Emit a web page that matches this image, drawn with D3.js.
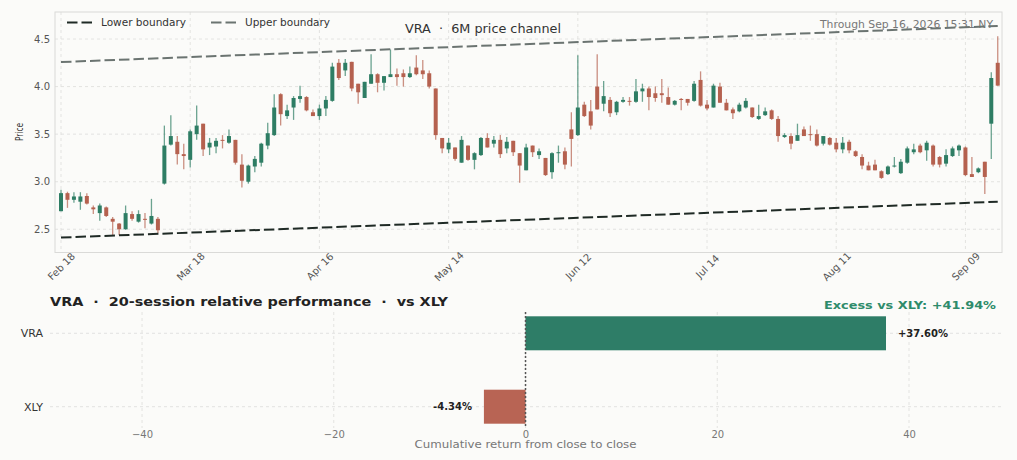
<!DOCTYPE html>
<html>
<head>
<meta charset="utf-8">
<script src="https://cdn.jsdelivr.net/npm/d3@7"></script>
<style>
  body { margin: 0; background: #fbfbf9; }
  svg text { font-family: "DejaVu Sans", sans-serif; white-space: pre; }
</style>
</head>
<body>
<svg id="chart" width="1017" height="460"></svg>
<script>
// ========== Data ==========
// Daily OHLC, one entry per session (Feb 18 .. Sep 16).
var opens = [
  2.69, 2.88, 2.81, 2.79, 2.85, 2.73, 2.67, 2.73, 2.61, 2.56,
  2.50, 2.66, 2.58, 2.61, 2.56, 2.61, 2.98, 3.39, 3.42, 3.29,
  3.23, 3.50, 3.61, 3.36, 3.37, 3.44, 3.41, 3.44, 3.18, 3.00,
  3.16, 3.20, 3.38, 3.49, 3.92, 3.69, 3.78, 3.87, 3.89, 3.73,
  3.69, 3.77, 3.85, 4.25, 4.17, 4.26, 4.03, 3.88, 4.03, 4.13,
  4.04, 4.10, 4.13, 4.14, 4.10, 4.20, 4.17, 4.14, 3.98, 3.46,
  3.34, 3.36, 3.20, 3.38, 3.23, 3.28, 3.46, 3.40, 3.44, 3.35,
  3.43, 3.30, 3.12, 3.38, 3.28, 3.25, 3.10, 3.30, 3.32, 3.55,
  3.49, 3.81, 3.74, 4.00, 3.82, 3.86, 3.73, 3.84, 3.85, 3.84,
  3.95, 3.98, 3.93, 3.93, 3.89, 3.81, 3.87, 3.87, 3.85, 4.07,
  3.81, 3.78, 4.00, 3.83, 3.76, 3.74, 3.78, 3.78, 3.66, 3.70,
  3.75, 3.66, 3.47, 3.48, 3.43, 3.55, 3.50, 3.50, 3.40, 3.46,
  3.41, 3.34, 3.42, 3.32, 3.26, 3.17, 3.18, 3.11, 3.08, 3.16,
  3.09, 3.20, 3.31, 3.38, 3.33, 3.38, 3.26, 3.19, 3.27, 3.33,
  3.36, 3.08, 3.10, 3.21, 3.61, 4.25
];
var highs = [
  2.915, 2.895, 2.89, 2.89, 2.88, 2.75, 2.77, 2.74, 2.63, 2.565,
  2.75, 2.69, 2.70, 2.67, 2.82, 2.63, 3.59, 3.70, 3.48, 3.40,
  3.55, 3.80, 3.61, 3.46, 3.46, 3.49, 3.55, 3.44, 3.29, 3.18,
  3.27, 3.41, 3.62, 3.92, 3.93, 3.81, 3.90, 4.01, 3.90, 3.76,
  3.81, 3.90, 4.25, 4.29, 4.29, 4.26, 4.03, 4.05, 4.34, 4.14,
  4.11, 4.39, 4.19, 4.18, 4.21, 4.33, 4.28, 4.17, 3.98, 3.46,
  3.46, 3.36, 3.48, 3.38, 3.31, 3.47, 3.51, 3.48, 3.49, 3.47,
  3.43, 3.30, 3.40, 3.38, 3.35, 3.25, 3.31, 3.38, 3.36, 3.73,
  4.33, 3.84, 3.86, 4.34, 4.06, 3.89, 3.85, 3.89, 3.89, 4.08,
  4.03, 4.00, 4.00, 4.08, 3.99, 3.86, 3.88, 3.87, 4.06, 4.16,
  3.86, 4.03, 4.04, 3.87, 3.78, 3.83, 3.88, 3.78, 3.81, 3.78,
  3.76, 3.69, 3.51, 3.51, 3.61, 3.58, 3.59, 3.55, 3.48, 3.47,
  3.46, 3.47, 3.44, 3.33, 3.29, 3.21, 3.23, 3.12, 3.17, 3.26,
  3.24, 3.37, 3.40, 3.40, 3.43, 3.39, 3.27, 3.34, 3.37, 3.39,
  3.37, 3.26, 3.15, 3.21, 4.15, 4.53
];
var lows = [
  2.69, 2.725, 2.78, 2.705, 2.76, 2.66, 2.59, 2.63, 2.44, 2.44,
  2.495, 2.59, 2.57, 2.51, 2.55, 2.46, 2.97, 3.38, 3.18, 3.13,
  3.15, 3.44, 3.27, 3.28, 3.30, 3.35, 3.40, 3.18, 2.94, 2.98,
  3.10, 3.16, 3.34, 3.48, 3.59, 3.66, 3.65, 3.83, 3.74, 3.69,
  3.65, 3.69, 3.84, 4.07, 4.11, 3.95, 3.82, 3.88, 4.03, 3.94,
  3.96, 4.10, 4.01, 4.00, 4.09, 4.12, 4.08, 3.98, 3.44, 3.30,
  3.30, 3.22, 3.20, 3.22, 3.13, 3.27, 3.36, 3.36, 3.25, 3.30,
  3.27, 2.99, 3.12, 3.26, 3.24, 3.06, 3.03, 3.20, 3.13, 3.16,
  3.48, 3.68, 3.55, 3.76, 3.74, 3.68, 3.70, 3.83, 3.80, 3.83,
  3.84, 3.75, 3.84, 3.83, 3.81, 3.80, 3.75, 3.80, 3.84, 3.79,
  3.75, 3.78, 3.83, 3.75, 3.66, 3.73, 3.77, 3.67, 3.65, 3.69,
  3.65, 3.42, 3.46, 3.34, 3.43, 3.48, 3.43, 3.37, 3.38, 3.38,
  3.31, 3.30, 3.30, 3.26, 3.13, 3.12, 3.12, 3.03, 3.07, 3.15,
  3.08, 3.19, 3.29, 3.30, 3.22, 3.16, 3.15, 3.16, 3.26, 3.27,
  3.06, 3.05, 3.09, 2.87, 3.24, 4.01
];
var closes = [
  2.88, 2.81, 2.845, 2.845, 2.77, 2.71, 2.75, 2.64, 2.58, 2.50,
  2.67, 2.61, 2.66, 2.60, 2.64, 2.49, 3.38, 3.48, 3.29, 3.27,
  3.53, 3.59, 3.34, 3.41, 3.43, 3.43, 3.48, 3.20, 3.01, 3.17,
  3.24, 3.40, 3.51, 3.78, 3.71, 3.75, 3.88, 3.90, 3.75, 3.69,
  3.77, 3.86, 4.21, 4.09, 4.25, 3.98, 3.94, 4.05, 4.13, 4.04,
  4.11, 4.13, 4.10, 4.10, 4.14, 4.13, 4.13, 4.00, 3.49, 3.35,
  3.41, 3.24, 3.44, 3.23, 3.30, 3.46, 3.36, 3.44, 3.29, 3.42,
  3.31, 3.17, 3.36, 3.31, 3.32, 3.07, 3.30, 3.31, 3.18, 3.45,
  3.78, 3.69, 3.59, 3.76, 3.90, 3.72, 3.84, 3.86, 3.84, 3.95,
  3.98, 3.89, 3.88, 3.91, 3.81, 3.85, 3.86, 3.83, 4.03, 3.80,
  3.77, 4.01, 3.83, 3.75, 3.72, 3.81, 3.85, 3.68, 3.69, 3.74,
  3.66, 3.48, 3.49, 3.40, 3.49, 3.48, 3.49, 3.38, 3.48, 3.39,
  3.34, 3.41, 3.33, 3.27, 3.17, 3.12, 3.12, 3.04, 3.16, 3.17,
  3.21, 3.35, 3.34, 3.31, 3.41, 3.18, 3.18, 3.28, 3.35, 3.38,
  3.07, 3.05, 3.14, 3.05, 4.09, 4.01
];
// x ticks every 20 sessions
var dateTickIndex = [0, 20, 40, 60, 80, 100, 120, 140];
var dateTickLabels = ["Feb 18", "Mar 18", "Apr 16", "May 14", "Jun 12", "Jul 14", "Aug 11", "Sep 09"];
var priceTicks = [2.5, 3.0, 3.5, 4.0, 4.5];
// channel lines: value at first and last session
var lowerBoundary = [2.413, 2.790];
var upperBoundary = [4.258, 4.637];

// relative performance panel
var perfNames = ["VRA", "XLY"];
var perfValues = [37.60, -4.34];
var perfTicks = [-40, -20, 0, 20, 40];
var excessValue = 41.94;
// =============================================

var GREEN = "#2e7d64";
var RED = "#b5614f";
var DASH = "10.5,4";

var svg = d3.select("#chart");

// ---------- price panel ----------
var pLeft = 55, pRight = 1002, pTop = 12, pBottom = 252.5;
var x = d3.scaleLinear().domain([-0.93, 145.66]).range([pLeft, pRight]);
var y = d3.scaleLinear().domain([2.256, 4.784]).range([pBottom, pTop]);

var grid = svg.append("g");
grid.selectAll(".hg").data(priceTicks).enter().append("line")
  .attr("x1", pLeft).attr("x2", pRight)
  .attr("y1", function(d) { return y(d); }).attr("y2", function(d) { return y(d); })
  .attr("stroke", "#e0e0de").attr("stroke-dasharray", "3,3").attr("stroke-width", 0.9);
grid.selectAll(".vg").data(dateTickIndex).enter().append("line")
  .attr("y1", pTop).attr("y2", pBottom)
  .attr("x1", function(d) { return x(d); }).attr("x2", function(d) { return x(d); })
  .attr("stroke", "#e0e0de").attr("stroke-dasharray", "3,3").attr("stroke-width", 0.9);

svg.append("rect")
  .attr("x", pLeft).attr("y", pTop)
  .attr("width", pRight - pLeft).attr("height", pBottom - pTop)
  .attr("fill", "none").attr("stroke", "#dadad8").attr("stroke-width", 1);

// y axis
var yAxis = svg.append("g")
  .attr("transform", "translate(" + pLeft + ",0)")
  .call(d3.axisLeft(y).tickValues(priceTicks).tickSize(0).tickPadding(5)
    .tickFormat(d3.format(".1f")));
yAxis.select(".domain").remove();
yAxis.selectAll("text")
  .attr("fill", "#555").style("font-size", "10px").style("font-family", "DejaVu Sans");

svg.append("text")
  .attr("transform", "translate(23,132) rotate(-90)")
  .attr("text-anchor", "middle")
  .attr("textLength", 18).attr("lengthAdjust", "spacingAndGlyphs")
  .attr("fill", "#333").style("font-size", "11px")
  .text("Price");

// x axis (session index, labelled with dates)
var xAxis = svg.append("g")
  .attr("transform", "translate(0," + pBottom + ")")
  .call(d3.axisBottom(x).tickValues(dateTickIndex).tickSize(0)
    .tickFormat(function(d, i) { return dateTickLabels[i]; }));
xAxis.select(".domain").remove();
xAxis.selectAll("text")
  .attr("y", 0).attr("dy", "0.35em")
  .attr("text-anchor", "middle")
  .attr("transform", "translate(0,14) rotate(-45)")
  .attr("fill", "#555").style("font-size", "10px").style("font-family", "DejaVu Sans");

// channel lines
var lastIdx = closes.length - 1;
function channel(vals, color) {
  svg.append("line")
    .attr("x1", x(0)).attr("y1", y(vals[0]))
    .attr("x2", x(lastIdx)).attr("y2", y(vals[1]))
    .attr("stroke", color).attr("stroke-width", 2)
    .attr("stroke-dasharray", DASH);
}

// candles
var idx = d3.range(closes.length);
var candles = svg.append("g");
candles.selectAll(".wick").data(idx).enter().append("line")
  .attr("x1", function(i) { return x(i); }).attr("x2", function(i) { return x(i); })
  .attr("y1", function(i) { return y(highs[i]); }).attr("y2", function(i) { return y(lows[i]); })
  .attr("stroke", function(i) { return closes[i] >= opens[i] ? GREEN : RED; })
  .attr("stroke-opacity", 0.7).attr("stroke-width", 1.3);
candles.selectAll(".body").data(idx).enter().append("rect")
  .attr("x", function(i) { return x(i) - 2; })
  .attr("width", 4)
  .attr("y", function(i) { return y(Math.max(opens[i], closes[i])); })
  .attr("height", function(i) {
    return Math.max(1, Math.abs(y(opens[i]) - y(closes[i])));
  })
  .attr("fill", function(i) { return closes[i] >= opens[i] ? GREEN : RED; });

// titles inside price panel
svg.append("text")
  .attr("x", 993).attr("y", 27.5).attr("text-anchor", "end")
  .attr("textLength", 173).attr("lengthAdjust", "spacingAndGlyphs")
  .attr("fill", "#777").style("font-size", "10px")
  .text("Through Sep 16, 2026 15:31 NY");

channel(lowerBoundary, "#1f2a25");
channel(upperBoundary, "#6b7471");

svg.append("text")
  .attr("x", 405).attr("y", 33)
  .attr("textLength", 156).attr("lengthAdjust", "spacingAndGlyphs")
  .attr("fill", "#333").style("font-size", "12px")
  .text("VRA  \u00b7  6M price channel");

// legend
var legendItems = [
  { label: "Lower boundary", color: "#1f2a25", x: 67 },
  { label: "Upper boundary", color: "#6b7471", x: 211 }
];
var legend = svg.append("g");
legendItems.forEach(function(d) {
  legend.append("line")
    .attr("x1", d.x).attr("x2", d.x + 25)
    .attr("y1", 22.5).attr("y2", 22.5)
    .attr("stroke", d.color).attr("stroke-width", 2)
    .attr("stroke-dasharray", DASH);
  legend.append("text")
    .attr("x", d.x + 34).attr("y", 26)
    .attr("textLength", 85).attr("lengthAdjust", "spacingAndGlyphs")
    .attr("fill", "#333").style("font-size", "10px")
    .text(d.label);
});

// ---------- relative performance panel ----------
var bLeft = 50, bRight = 1002, bTop = 312, bBottom = 428;
var xb = d3.scaleLinear().domain([-49.6, 49.7]).range([bLeft, bRight]);
var yb = d3.scalePoint().domain(perfNames).range([333.3, 406.7]);
var barH = 34;

svg.selectAll(".bvg").data(perfTicks).enter().append("line")
  .attr("x1", function(d) { return xb(d); }).attr("x2", function(d) { return xb(d); })
  .attr("y1", bTop).attr("y2", bBottom)
  .attr("stroke", "#e0e0de").attr("stroke-dasharray", "3,3").attr("stroke-width", 0.9);
svg.selectAll(".bhg").data(perfNames).enter().append("line")
  .attr("x1", bLeft).attr("x2", bRight)
  .attr("y1", function(d) { return yb(d); }).attr("y2", function(d) { return yb(d); })
  .attr("stroke", "#e0e0de").attr("stroke-dasharray", "3,3").attr("stroke-width", 0.9);

svg.selectAll(".bar").data(perfValues).enter().append("rect")
  .attr("x", function(d) { return xb(Math.min(0, d)); })
  .attr("width", function(d) { return Math.abs(xb(d) - xb(0)); })
  .attr("y", function(d, i) { return yb(perfNames[i]) - barH / 2; })
  .attr("height", barH)
  .attr("fill", function(d) { return d >= 0 ? "#2e7d67" : "#b86454"; });

svg.append("line")
  .attr("x1", xb(0)).attr("x2", xb(0))
  .attr("y1", bTop).attr("y2", bBottom)
  .attr("stroke", "#555").attr("stroke-width", 1.5).attr("stroke-dasharray", "2,2");

svg.selectAll(".vlab").data(perfValues).enter().append("text")
  .attr("x", function(d) { return d >= 0 ? xb(d) + 12 : xb(d) - 12; })
  .attr("y", function(d, i) { return yb(perfNames[i]); })
  .attr("dy", "0.35em")
  .attr("text-anchor", function(d) { return d >= 0 ? "start" : "end"; })
  .attr("fill", "#222").style("font-size", "10px").style("font-weight", "bold")
  .text(function(d) { return (d >= 0 ? "+" : "-") + Math.abs(d).toFixed(2) + "%"; });

// category labels
svg.selectAll(".cat").data(perfNames).enter().append("text")
  .attr("x", 43).attr("y", function(d) { return yb(d); }).attr("dy", "0.35em")
  .attr("text-anchor", "end")
  .attr("fill", "#333").style("font-size", "11px")
  .text(function(d) { return d; });

// x axis of the bar panel
var bAxis = svg.append("g")
  .attr("transform", "translate(0,434)")
  .call(d3.axisBottom(xb).tickValues(perfTicks).tickSize(0).tickFormat(d3.format("d")));
bAxis.select(".domain").remove();
bAxis.selectAll("text")
  .attr("y", 0).attr("dy", "0.35em")
  .attr("fill", "#777").style("font-size", "10px").style("font-family", "DejaVu Sans");

svg.append("text")
  .attr("x", xb(0)).attr("y", 447.5).attr("text-anchor", "middle")
  .attr("textLength", 222).attr("lengthAdjust", "spacingAndGlyphs")
  .attr("fill", "#777").style("font-size", "10px")
  .text("Cumulative return from close to close");

svg.append("text")
  .attr("x", 50).attr("y", 306)
  .attr("textLength", 398).attr("lengthAdjust", "spacingAndGlyphs")
  .attr("fill", "#222").style("font-size", "12px").style("font-weight", "bold")
  .text("VRA  \u00b7  20-session relative performance  \u00b7  vs XLY");

svg.append("text")
  .attr("x", 996).attr("y", 309).attr("text-anchor", "end")
  .attr("textLength", 172).attr("lengthAdjust", "spacingAndGlyphs")
  .attr("fill", "#2e8b6b").style("font-size", "11px").style("font-weight", "bold")
  .text("Excess vs XLY: +" + excessValue.toFixed(2) + "%");
</script>
</body>
</html>
